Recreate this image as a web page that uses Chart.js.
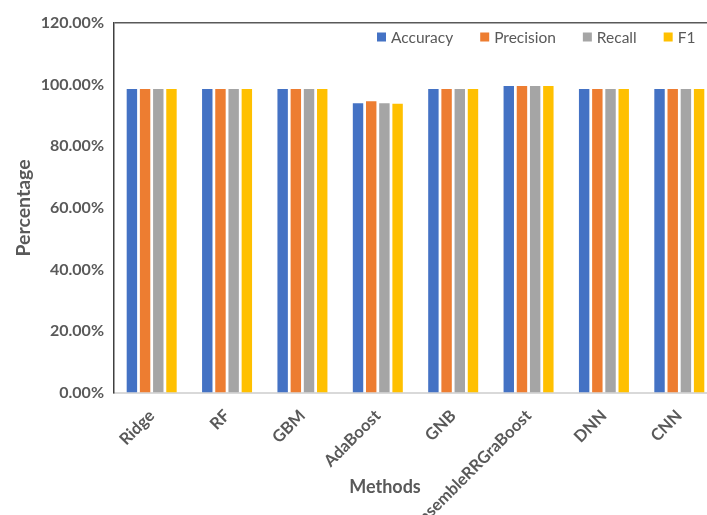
<!DOCTYPE html>
<html>
<head>
<meta charset="utf-8">
<script src="https://cdn.jsdelivr.net/npm/chart.js@4/dist/chart.umd.min.js"></script>
<style>
  html, body { margin: 0; padding: 0; background: #fff; overflow: hidden; }
  #wrap { position: relative; width: 722px; height: 515px; }
</style>
</head>
<body>
<div id="wrap"><canvas id="chart" width="722" height="515"></canvas></div>
<script>
// Methods compared
const methods = ['Ridge', 'RF', 'GBM', 'AdaBoost', 'GNB', 'EnsembleRRGraBoost', 'DNN', 'CNN'];

// Scores per method, in percent
const accuracy  = [98.6, 98.6, 98.6, 94.0, 98.6, 99.6, 98.6, 98.6];
const precision = [98.6, 98.6, 98.6, 94.6, 98.6, 99.6, 98.6, 98.6];
const recall    = [98.6, 98.6, 98.6, 94.0, 98.6, 99.6, 98.6, 98.6];
const f1        = [98.6, 98.6, 98.6, 93.8, 98.6, 99.6, 98.6, 98.6];

// Y axis tick values (percent)
const yTicks = [0, 20, 40, 60, 80, 100, 120];

const TEXT = '#595959';
const FONT = 'Lato, "Open Sans", sans-serif';

// Axis title under the category labels
const xTitle = {
  id: 'xTitle',
  afterDraw(chart) {
    const ctx = chart.ctx;
    ctx.save();
    ctx.font = 'bold 18px ' + FONT;
    ctx.fillStyle = TEXT;
    ctx.textAlign = 'center';
    ctx.textBaseline = 'middle';
    ctx.fillText('Methods', 385, 487);
    ctx.restore();
  }
};

// One-row legend laid over the top of the plot area
const insetLegend = {
  id: 'insetLegend',
  afterDraw(chart) {
    const ctx = chart.ctx;
    const box = 9, gapText = 5, gapItem = 27;
    const y = chart.chartArea.top + 14;
    ctx.save();
    ctx.font = '15.5px ' + FONT;
    ctx.textBaseline = 'middle';
    ctx.textAlign = 'left';
    let x = 377;
    chart.data.datasets.forEach(ds => {
      ctx.fillStyle = ds.backgroundColor;
      ctx.fillRect(x, y - box / 2, box, box);
      x += box + gapText;
      ctx.fillStyle = TEXT;
      ctx.fillText(ds.label, x, y + 1);
      x += ctx.measureText(ds.label).width + gapItem;
    });
    ctx.restore();
  }
};

new Chart(document.getElementById('chart'), {
  type: 'bar',
  data: {
    labels: methods,
    datasets: [
      { label: 'Accuracy',  data: accuracy,  backgroundColor: '#4472C4' },
      { label: 'Precision', data: precision, backgroundColor: '#ED7D31' },
      { label: 'Recall',    data: recall,    backgroundColor: '#A5A5A5' },
      { label: 'F1',        data: f1,        backgroundColor: '#FFC000' }
    ]
  },
  options: {
    responsive: false,
    animation: false,
    layout: { padding: { top: 23, right: 5, left: 0, bottom: 0 } },
    datasets: { bar: { categoryPercentage: 0.70, barPercentage: 0.79 } },
    plugins: {
      tooltip: { enabled: false },
      legend: { display: false }
    },
    scales: {
      x: {
        afterFit(s) { s.height = 122; },
        grid: { display: false, drawTicks: false },
        border: { display: true, color: '#D9D9D9', width: 2 },
        ticks: {
          autoSkip: false,
          minRotation: 45,
          maxRotation: 45,
          padding: 13,
          color: TEXT,
          font: { family: FONT, size: 16.5, weight: 'bold' }
        }
      },
      y: {
        min: 0,
        max: 120,
        afterFit(s) { s.width = 114; },
        afterBuildTicks(s) { s.ticks = yTicks.map(v => ({ value: v })); },
        grid: {
          color: c => (c.tick && c.tick.value === 120 ? '#595959' : 'rgba(0,0,0,0)'),
          lineWidth: 1.5,
          drawTicks: false
        },
        border: { display: true, color: '#404040', width: 1.5 },
        title: {
          display: true,
          text: 'Percentage',
          color: TEXT,
          font: { family: FONT, size: 19.5, weight: 'bold' },
          padding: { top: 12, bottom: 0 }
        },
        ticks: {
          padding: 10,
          color: TEXT,
          font: { family: FONT, size: 16, weight: 'bold' },
          callback: v => v.toFixed(2) + '%'
        }
      }
    }
  },
  plugins: [xTitle, insetLegend]
});
</script>
</body>
</html>
